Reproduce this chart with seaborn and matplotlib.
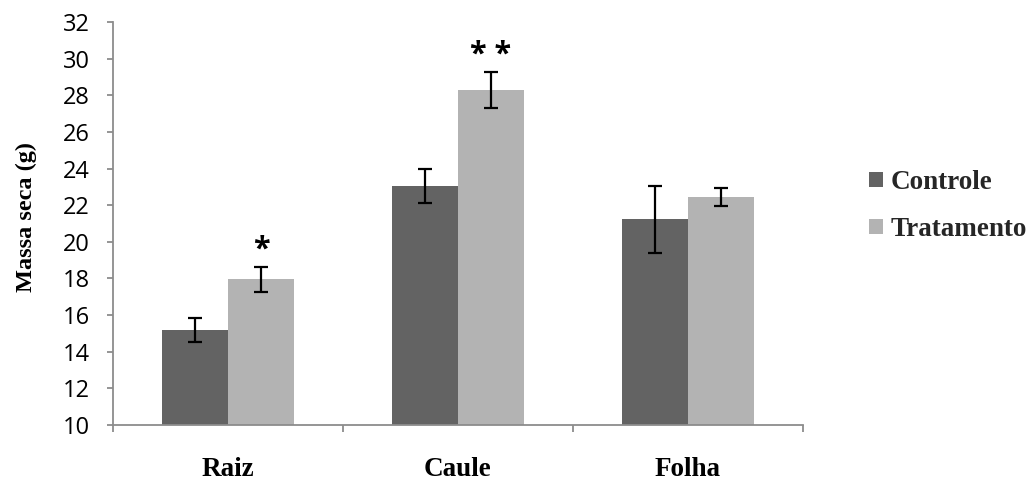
import matplotlib
matplotlib.use("Agg")
import matplotlib.pyplot as plt
import seaborn as sns
import pandas as pd
import numpy as np
from matplotlib.patches import Patch

categories = ["Raiz", "Caule", "Folha"]
groups = ["Controle", "Tratamento"]
controle = [15.2, 23.05, 21.22]
tratamento = [17.95, 28.3, 22.45]
err_controle = [0.65, 0.95, 1.83]
err_tratamento = [0.7, 0.97, 0.5]
marks = ["*", "* *", ""]  # significance for Tratamento
yticks = list(range(10, 33, 2))

df = pd.DataFrame({
    "Parte": categories * 2,
    "Grupo": [groups[0]] * 3 + [groups[1]] * 3,
    "Massa": controle + tratamento,
    "Erro": err_controle + err_tratamento,
})

sns.set_theme(style="white")
colors = {"Controle": "#636363", "Tratamento": "#b3b3b3"}

fig = plt.figure(figsize=(10.35, 4.83), dpi=100)
ax = fig.add_axes([113 / 1035, 1 - 425 / 483, 690 / 1035, 403 / 483])

sns.barplot(data=df, x="Parte", y="Massa", hue="Grupo", order=categories,
            hue_order=groups, palette=colors, errorbar=None, width=0.574,
            linewidth=0, saturation=1, ax=ax, legend=False)

# error bars at bar centres
for gi, g in enumerate(groups):
    cont = ax.containers[gi]
    sub = df[df["Grupo"] == g].set_index("Parte").loc[categories]
    xs = [p.get_x() + p.get_width() / 2 for p in cont.patches]
    ax.errorbar(xs, sub["Massa"].values, yerr=sub["Erro"].values, fmt="none",
                ecolor="black", elinewidth=1.6, capsize=5, capthick=1.6, zorder=5)
    if g == "Tratamento":
        for x, m, e, s in zip(xs, sub["Massa"].values, sub["Erro"].values, marks):
            if s:
                ax.text(x, m + e + 0.5, s, ha="center", va="baseline",
                        fontsize=22, fontweight="bold", family="Open Sans", color="black")

ax.set_ylim(10, 32)
ax.set_xlim(-0.5, 2.5)
ax.set_yticks(yticks)
ax.set_yticklabels([str(t) for t in yticks], family="Open Sans", fontsize=17, color="black")
ax.set_xticks(range(3))
ax.set_xticklabels(categories, family="Liberation Serif", fontweight="bold", fontsize=19.5, color="black")
ax.set_xticks([-0.5, 0.5, 1.5, 2.5], minor=True)
ax.tick_params(axis="x", which="major", length=0, pad=23)
ax.tick_params(axis="x", which="minor", length=5, width=1.3, color="#8c8c8c", direction="out", bottom=True)
ax.tick_params(axis="y", which="major", length=4.5, width=1.3, color="#8c8c8c", direction="out", left=True, pad=12)

for s in ["top", "right"]:
    ax.spines[s].set_visible(False)
for s in ["left", "bottom"]:
    ax.spines[s].set_color("#8c8c8c")
    ax.spines[s].set_linewidth(1.3)

ax.set_xlabel("")
ax.set_ylabel("Massa seca (g)", family="Liberation Serif", fontweight="bold", fontsize=17.5, color="black")
ax.yaxis.set_label_coords(-0.11, 0.515)

handles = [Patch(facecolor=colors[g], edgecolor="none") for g in groups]
fig.legend(handles, groups, loc="center left", bbox_to_anchor=(869 / 1035, 1 - 206 / 483),
           frameon=False, prop={"family": "Liberation Serif", "weight": "bold", "size": 19.5},
           handlelength=0.5, handleheight=0.5, handletextpad=0.3, labelspacing=0.8,
           borderpad=0, borderaxespad=0)

fig.savefig("out.png", dpi=100)
